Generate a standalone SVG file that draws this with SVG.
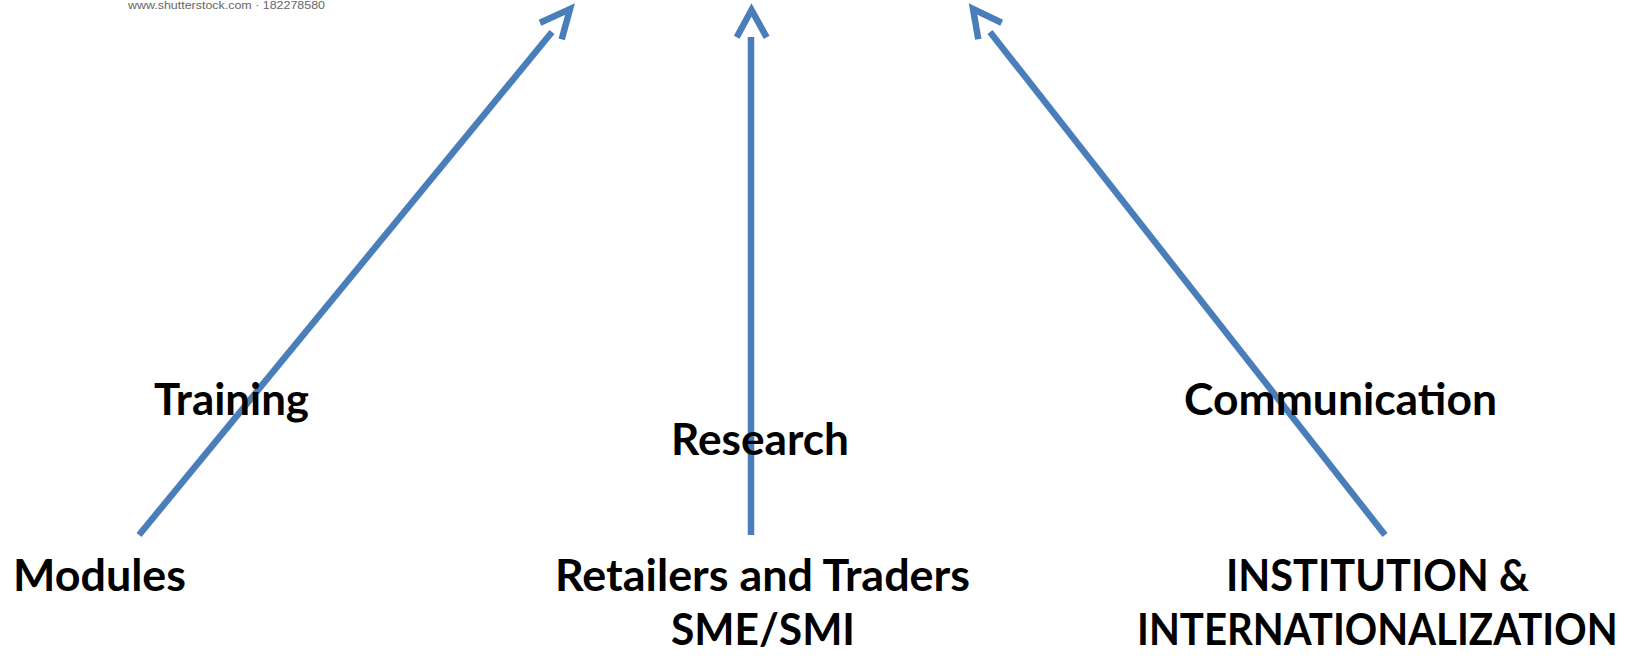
<svg xmlns="http://www.w3.org/2000/svg" width="1639" height="657" viewBox="0 0 1639 657">
<style>
.lbl{font-family:Lato,"Liberation Sans",sans-serif;font-weight:bold;font-size:43px;fill:#000}
.wm{font-family:"Liberation Sans",Arial,sans-serif;font-size:11px;fill:#666}
.ln{stroke:#4A7EBB;stroke-width:6.5;fill:none}
.hd{stroke:#4A7EBB;stroke-width:6.5;fill:none;stroke-linejoin:miter;stroke-linecap:butt}
</style>
<rect width="1639" height="657" fill="#fff"/>
<text class="wm" x="128" y="9" textLength="197" lengthAdjust="spacingAndGlyphs">www.shutterstock.com · 182278580</text>
<g id="connectors">
<line class="ln" x1="139" y1="535" x2="552" y2="32"/>
<polyline class="hd" points="540,22.7 570,9 561.7,39.3"/>
<line class="ln" x1="751" y1="535" x2="751" y2="37"/>
<polyline class="hd" points="736.7,37.3 751.5,10 766.7,37.3"/>
<line class="ln" x1="1385" y1="535" x2="990" y2="32"/>
<polyline class="hd" points="1001.7,22.7 973,9 978.3,39.3"/>
</g>
<g id="training"><text class="lbl" x="154" y="415" textLength="155" lengthAdjust="spacingAndGlyphs">Training</text></g>
<g id="research"><text class="lbl" x="671" y="455" textLength="178" lengthAdjust="spacingAndGlyphs">Research</text></g>
<g id="communication"><text class="lbl" x="1184" y="415" textLength="313" lengthAdjust="spacingAndGlyphs">Communication</text></g>
<g id="modules"><text class="lbl" x="13" y="591" textLength="173" lengthAdjust="spacingAndGlyphs">Modules</text></g>
<g id="retailers">
<text class="lbl" x="555" y="591" textLength="415" lengthAdjust="spacingAndGlyphs">Retailers and Traders</text>
<text class="lbl" x="671" y="645" textLength="184" lengthAdjust="spacingAndGlyphs">SME/SMI</text>
</g>
<g id="institution">
<text class="lbl" transform="translate(1137,645) scale(0.9,1)" x="0" y="0" textLength="534" lengthAdjust="spacingAndGlyphs">INTERNATIONALIZATION</text>
<text class="lbl" x="1226" y="591" textLength="303" lengthAdjust="spacingAndGlyphs">INSTITUTION &amp;</text>
</g>
</svg>
